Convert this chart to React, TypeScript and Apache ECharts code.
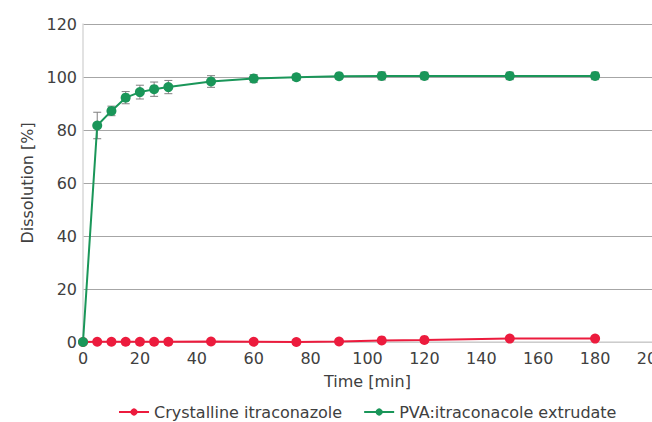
import React, { useEffect, useRef } from "react";
import * as echarts from "echarts";

const times = [0, 5, 10, 15, 20, 25, 30, 45, 60, 75, 90, 105, 120, 150, 180];
const crystalline = [0, 0.1, 0.1, 0.1, 0.1, 0.1, 0.1, 0.2, 0.1, 0.0, 0.2, 0.6, 0.8, 1.3, 1.3];
const pvaExtrudate = [0, 81.7, 87.2, 92.2, 94.3, 95.4, 96.2, 98.3, 99.4, 99.9, 100.3, 100.4, 100.4, 100.4, 100.4];
const pvaError = [0, 5.0, 1.8, 2.3, 2.6, 2.7, 2.5, 2.2, 1.5, 1.2, 1.0, 1.5, 1.4, 1.4, 1.4];
const xTicks = { min: 0, max: 200, interval: 20 };
const yTicks = { min: 0, max: 120, interval: 20 };

const RED = "#EC1B3D";
const GREEN = "#1A9659";
const FONT = "DejaVu Sans";
const TXT = "#404040";

export default function App() {
  const ref = useRef<HTMLDivElement>(null);
  useEffect(() => {
    if (!ref.current) return;
    const chart = echarts.init(ref.current, null, { renderer: "svg" });
    const errData = times.map((t, i) => [t, pvaExtrudate[i] - pvaError[i], pvaExtrudate[i] + pvaError[i]]);
    chart.setOption({
      animation: false,
      textStyle: { fontFamily: FONT },
      grid: { left: 83, right: 0, top: 24, bottom: 80, outerBoundsMode: "none", containLabel: false },
      legend: {
        top: 399,
        left: 113,
        itemWidth: 30,
        itemHeight: 9,
        itemGap: 21,
        textStyle: { fontFamily: FONT, fontSize: 16, color: TXT },
        data: ["Crystalline itraconazole", "PVA:itraconacole extrudate"],
      },
      xAxis: {
        type: "value",
        min: xTicks.min,
        max: xTicks.max,
        interval: xTicks.interval,
        name: "Time [min]",
        nameLocation: "middle",
        nameGap: 31,
        nameTextStyle: { fontFamily: FONT, fontSize: 16, color: TXT },
        axisLine: { lineStyle: { color: "#d9d9d9", width: 1.5 } },
        axisTick: { show: false },
        splitLine: { show: false },
        axisLabel: { fontFamily: FONT, fontSize: 16, color: TXT, margin: 8, hideOverlap: false },
      },
      yAxis: {
        type: "value",
        min: yTicks.min,
        max: yTicks.max,
        interval: yTicks.interval,
        name: "Dissolution [%]",
        nameLocation: "middle",
        nameGap: 40,
        nameTextStyle: { fontFamily: FONT, fontSize: 16, color: TXT },
        axisLine: { show: true, lineStyle: { color: "#d9d9d9", width: 1.5 } },
        axisTick: { show: false },
        splitLine: { lineStyle: { color: "#a6a6a6", width: 1 } },
        axisLabel: { fontFamily: FONT, fontSize: 16, color: TXT, margin: 6 },
      },
      series: [
        {
          name: "PVA:itraconacole extrudate",
          type: "line",
          data: times.map((t, i) => [t, pvaExtrudate[i]]),
          symbol: "circle",
          symbolSize: 10,
          itemStyle: { color: GREEN },
          lineStyle: { color: GREEN, width: 2 },
          z: 3,
        },
        {
          name: "Crystalline itraconazole",
          type: "line",
          data: times.map((t, i) => [t, crystalline[i]]),
          symbol: "circle",
          symbolSize: 10,
          itemStyle: { color: RED },
          lineStyle: { color: RED, width: 2 },
          z: 2,
        },
        {
          name: "errors",
          type: "custom",
          data: errData,
          z: 1,
          silent: true,
          renderItem: (params: any, api: any) => {
            const x = api.value(0);
            const lo = api.coord([x, api.value(1)]);
            const hi = api.coord([x, api.value(2)]);
            const w = 4;
            const style = { stroke: "#7f7f7f", lineWidth: 1 };
            return {
              type: "group",
              children: [
                { type: "line", shape: { x1: lo[0], y1: lo[1], x2: hi[0], y2: hi[1] }, style },
                { type: "line", shape: { x1: lo[0] - w, y1: lo[1], x2: lo[0] + w, y2: lo[1] }, style },
                { type: "line", shape: { x1: hi[0] - w, y1: hi[1], x2: hi[0] + w, y2: hi[1] }, style },
              ],
            };
          },
        },
      ],
    });
    return () => chart.dispose();
  }, []);
  return <div ref={ref} style={{ width: 652, height: 422, position: "absolute", left: 0, top: 0 }} />;
}
